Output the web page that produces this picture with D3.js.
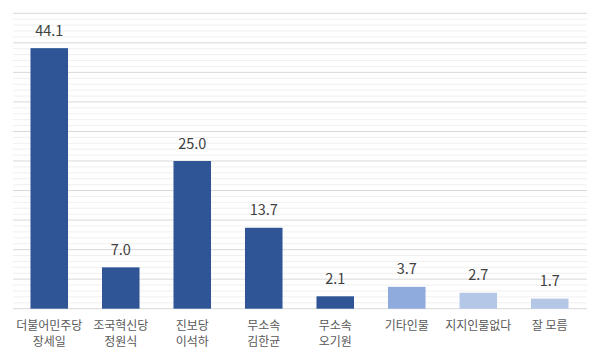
<!DOCTYPE html>
<html><head><meta charset="utf-8">
<script src="https://cdn.jsdelivr.net/npm/d3@7"></script>
<style>body{margin:0;background:#fff}svg{display:block}</style>
</head><body><svg id="c" width="600" height="356"></svg>
<script>
const categories = [["더불어민주당","장세일"],["조국혁신당","정원식"],["진보당","이석하"],["무소속","김한균"],["무소속","오기원"],["기타인물"],["지지인물없다"],["잘 모름"]];
const values = [44.1, 7.0, 25.0, 13.7, 2.1, 3.7, 2.7, 1.7];
const barColors = ["#2f5597","#2f5597","#2f5597","#2f5597","#2f5597","#8faadc","#b4c7e7","#b4c7e7"];
const yMax = 50;

const svg = d3.select("#c");
const x = d3.scaleBand().domain(d3.range(values.length)).range([13.5, 585.5]).paddingInner(0.475).paddingOuter(0.2375);
const y = d3.scaleLinear().domain([0, yMax]).range([308.7, 13.3]);

// minor grid
svg.append("g").selectAll("line").data(d3.range(0, yMax + 1, 1).filter(v => v % 5 !== 0)).join("line")
  .attr("x1", 13).attr("x2", 587).attr("y1", d => y(d)).attr("y2", d => y(d))
  .attr("stroke", "#f0f0f0").attr("stroke-width", 1);
// major grid
svg.append("g").selectAll("line").data(d3.range(0, yMax + 1, 5)).join("line")
  .attr("x1", 13).attr("x2", 587).attr("y1", d => y(d)).attr("y2", d => y(d))
  .attr("stroke", "#d9d9d9").attr("stroke-width", 1);

svg.append("g").selectAll("rect").data(values).join("rect")
  .attr("x", (d, i) => x(i)).attr("width", x.bandwidth())
  .attr("y", d => y(d)).attr("height", d => y(0) - y(d))
  .attr("fill", (d, i) => barColors[i]);

svg.append("g").selectAll("text").data(values).join("text")
  .attr("x", (d, i) => x(i) + x.bandwidth() / 2).attr("y", d => y(d) - 12.5)
  .attr("text-anchor", "middle").attr("font-family", "'Noto Sans CJK KR','Noto Sans',sans-serif")
  .attr("font-size", 14.5).attr("fill", "#404040").text(d => d.toFixed(1));

const lab = svg.append("g").selectAll("text").data(categories).join("text")
  .attr("text-anchor", "middle").attr("font-family", "'Noto Sans CJK KR',sans-serif")
  .attr("font-size", 12).attr("fill", "#595959");
lab.selectAll("tspan").data((d, i) => d.map(t => ({t, i}))).join("tspan")
  .attr("x", d => x(d.i) + x.bandwidth() / 2)
  .attr("y", (d, j) => 330 + j * 15.5).text(d => d.t);
</script></body></html>
